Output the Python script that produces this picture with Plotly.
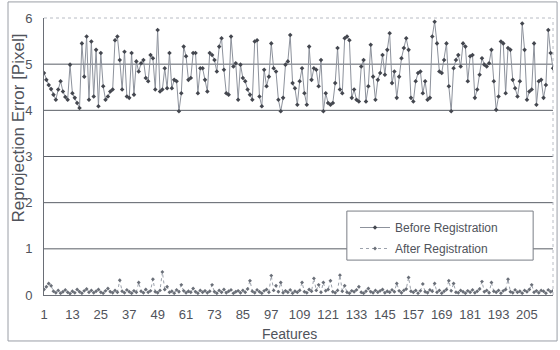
import plotly.graph_objects as go

features = list(range(1, 217))

before = [
    4.81, 4.66, 4.55, 4.46, 4.34, 4.23, 4.45, 4.63, 4.41, 4.29, 4.23, 4.99, 4.37, 4.27, 4.16, 4.05,
    5.45, 4.73, 5.6, 4.23, 5.49, 4.3, 5.31, 4.09, 5.24, 4.52, 4.23, 4.3, 4.41, 4.45,
    5.52, 5.6, 5.09, 4.45, 5.27, 4.3, 4.27, 5.24, 4.34, 5.06, 4.84, 5.02, 5.09, 4.7, 4.63, 5.2,
    5.13, 4.45, 5.74, 4.41, 4.45, 4.91, 4.48, 5.24, 4.48, 4.66, 4.63, 3.98, 4.37, 5.38, 5.17, 4.66,
    4.7, 5.24, 5.24, 4.37, 4.91, 4.91,
    4.66, 4.41, 5.24, 5.2, 5.09, 4.84, 5.38, 5.56, 4.88, 4.37, 4.34, 5.6, 4.95, 5.02, 4.23, 4.99,
    4.7, 4.63, 4.45, 4.34, 4.23, 5.49, 5.52, 4.3, 4.09, 4.88, 4.52, 4.73, 5.45, 4.91, 4.84, 4.23,
    3.98, 4.27, 4.99, 5.06,
    5.63, 4.59, 4.48, 4.12, 4.63, 4.91, 4.37, 4.12, 5.38, 4.66, 4.91, 4.88, 4.52, 5.09, 3.98, 4.37,
    4.16, 4.12, 4.16, 4.59, 5.35, 4.45, 4.37, 5.56, 5.6, 5.52, 4.27, 4.45, 4.23, 4.19, 4.95, 5.09,
    4.19, 4.52, 5.42, 4.73, 4.23, 4.66,
    4.81, 5.2, 4.77, 5.31, 5.67, 4.59, 4.84, 4.27, 4.73, 5.13, 5.35, 5.56, 5.31, 4.27, 4.19, 4.63,
    4.81, 4.84, 4.37, 4.63, 4.23, 4.27, 5.6, 5.92, 5.45, 4.84, 4.81, 5.09, 5.45, 4.52, 3.98, 4.91,
    5.09, 5.2, 4.95, 5.45, 5.38,
    4.63, 5.17, 5.2, 4.27, 4.45, 4.77, 5.13, 4.99, 4.95, 5.02, 5.31, 4.63, 4.01, 4.3, 5.49, 5.45,
    4.37, 5.35, 5.31, 4.66, 4.48, 4.3, 4.63, 5.88, 5.31, 4.23, 4.41, 4.45, 5.45, 4.12, 4.63, 4.66,
    4.27, 4.55, 5.74, 5.24, 4.91,
]

after = [
    0.12, 0.18, 0.25, 0.2, 0.08, 0.05, 0.1, 0.04, 0.07, 0.11, 0.06, 0.03,
    0.08, 0.05, 0.12, 0.07, 0.04, 0.09, 0.13, 0.06, 0.1, 0.05, 0.08, 0.12,
    0.06, 0.04, 0.09, 0.14, 0.07, 0.05, 0.1, 0.06, 0.32, 0.08, 0.05, 0.11,
    0.07, 0.04, 0.09, 0.06, 0.27, 0.08, 0.05, 0.12, 0.06, 0.09, 0.34, 0.07,
    0.05, 0.1, 0.5, 0.12, 0.18, 0.06, 0.08, 0.04, 0.11, 0.07, 0.22, 0.09,
    0.05, 0.08, 0.06, 0.14, 0.07, 0.04, 0.1, 0.06, 0.09, 0.05, 0.08, 0.22,
    0.07, 0.04, 0.1, 0.06, 0.12, 0.05, 0.08, 0.11, 0.04, 0.07, 0.09, 0.05,
    0.1, 0.06, 0.13, 0.31, 0.08, 0.05, 0.11, 0.07, 0.04, 0.09, 0.12, 0.06,
    0.42, 0.1, 0.2, 0.07, 0.27, 0.05, 0.09, 0.06, 0.11, 0.04, 0.08, 0.06,
    0.1, 0.27, 0.07, 0.05, 0.12, 0.08, 0.36, 0.1, 0.22, 0.06, 0.27, 0.09,
    0.12, 0.31, 0.07, 0.05, 0.1, 0.43, 0.08, 0.2, 0.06, 0.04, 0.09, 0.07,
    0.11, 0.18, 0.06, 0.04, 0.08, 0.14, 0.07, 0.05, 0.1, 0.06, 0.09, 0.12,
    0.05, 0.08, 0.06, 0.11, 0.07, 0.25, 0.09, 0.05, 0.1, 0.13, 0.38, 0.08,
    0.06, 0.1, 0.04, 0.09, 0.24, 0.07, 0.05, 0.11, 0.08, 0.25, 0.06, 0.1,
    0.04, 0.08, 0.12, 0.31, 0.09, 0.25, 0.06, 0.05, 0.1, 0.07, 0.04, 0.09,
    0.06, 0.11, 0.05, 0.08, 0.13, 0.29, 0.07, 0.1, 0.05, 0.27, 0.08, 0.06,
    0.1, 0.04, 0.09, 0.12, 0.34, 0.07, 0.05, 0.11, 0.06, 0.08, 0.04, 0.1,
    0.07, 0.12, 0.22, 0.06, 0.09, 0.05, 0.1, 0.08, 0.04, 0.11, 0.07, 0.09,
]

x_ticks = list(range(1, 206, 12))
y_ticks = [0, 1, 2, 3, 4, 5, 6]
grid_levels = [1, 2, 3, 4, 5]

n = min(len(before), len(features))
na = min(len(after), len(features))

FONT = "Liberation Sans, Arial, sans-serif"
NARROW = "Liberation Sans Narrow, Liberation Sans, Arial, sans-serif"
TXT = "#50535b"

fig = go.Figure()
fig.add_trace(go.Scatter(
    x=features[:n], y=before[:n], mode="lines+markers", name="Before Registration",
    legendgroup="a",
    line=dict(color="#8d929c", width=1),
    marker=dict(symbol="diamond", size=3.5, color="#44474f"),
))
fig.add_trace(go.Scatter(
    x=features[:na], y=after[:na], mode="lines+markers", name="After Registration",
    legendgroup="b",
    line=dict(color="#9ca2ac", width=1, dash="dot"),
    marker=dict(symbol="diamond", size=3, color="#6a6f78"),
))

shapes = []
for g in grid_levels:
    shapes.append(dict(type="line", xref="paper", yref="y", x0=0, x1=1, y0=g, y1=g,
                       line=dict(color="#5a5e66", width=1), layer="below"))
# top dotted border and right dotted border of plot area
shapes.append(dict(type="line", xref="paper", yref="paper", x0=0, x1=1, y0=1, y1=1,
                   line=dict(color="#b8bcc4", width=1, dash="dot"), layer="below"))
shapes.append(dict(type="line", xref="paper", yref="paper", x0=1, x1=1, y0=0, y1=1,
                   line=dict(color="#b8bcc4", width=1, dash="dot"), layer="below"))
# legend box
shapes.append(dict(type="rect", xref="paper", yref="paper", x0=0.595, x1=0.961, y0=0.126, y1=0.303,
                   line=dict(color="#7a7e86", width=1), fillcolor="white", layer="below"))
# outer chart frame
shapes.append(dict(type="rect", xref="paper", yref="paper", x0=-0.0707, x1=1.008, y0=-0.166, y1=1.058,
                   line=dict(color="#9a9ea6", width=1), layer="below"))

annotations = [
    dict(text="Reprojection Error [Pixel]", xref="paper", yref="paper", x=-0.05, y=0.603,
         xanchor="center", yanchor="middle", textangle=-90, showarrow=False,
         font=dict(family=FONT, size=17, color=TXT)),
    dict(text="Features", xref="paper", yref="paper", x=0.483, y=-0.14,
         xanchor="center", yanchor="middle", showarrow=False,
         font=dict(family=FONT, size=14, color=TXT)),
]

fig.update_layout(
    width=560, height=350,
    margin=dict(l=44, r=7, t=18, b=55),
    paper_bgcolor="white", plot_bgcolor="white",
    font=dict(family=FONT, size=12, color=TXT),
    showlegend=True,
    legend=dict(x=0.611, y=0.296, xanchor="left", yanchor="top",
                bgcolor="rgba(0,0,0,0)", borderwidth=0,
                traceorder="grouped", tracegroupgap=2,
                font=dict(family=FONT, size=12, color=TXT)),
    shapes=shapes,
    annotations=annotations,
    xaxis=dict(range=[1, 216], tickvals=x_ticks, ticktext=[str(t) for t in x_ticks],
               showgrid=False, zeroline=False, showline=True, linecolor="#6a6e76", linewidth=1,
               ticks="", ticklabelstandoff=7,
               tickfont=dict(family=NARROW, size=13, color=TXT)),
    yaxis=dict(range=[0, 6], tickvals=y_ticks, showgrid=False, zeroline=False,
               showline=True, linecolor="#6a6e76", linewidth=1, ticks="",
               ticklabelstandoff=8,
               tickfont=dict(family=NARROW, size=13, color=TXT)),
)

fig.write_html("out.html", config={"displayModeBar": False},
               post_script="document.body.style.margin='0';document.body.style.overflow='hidden';")
